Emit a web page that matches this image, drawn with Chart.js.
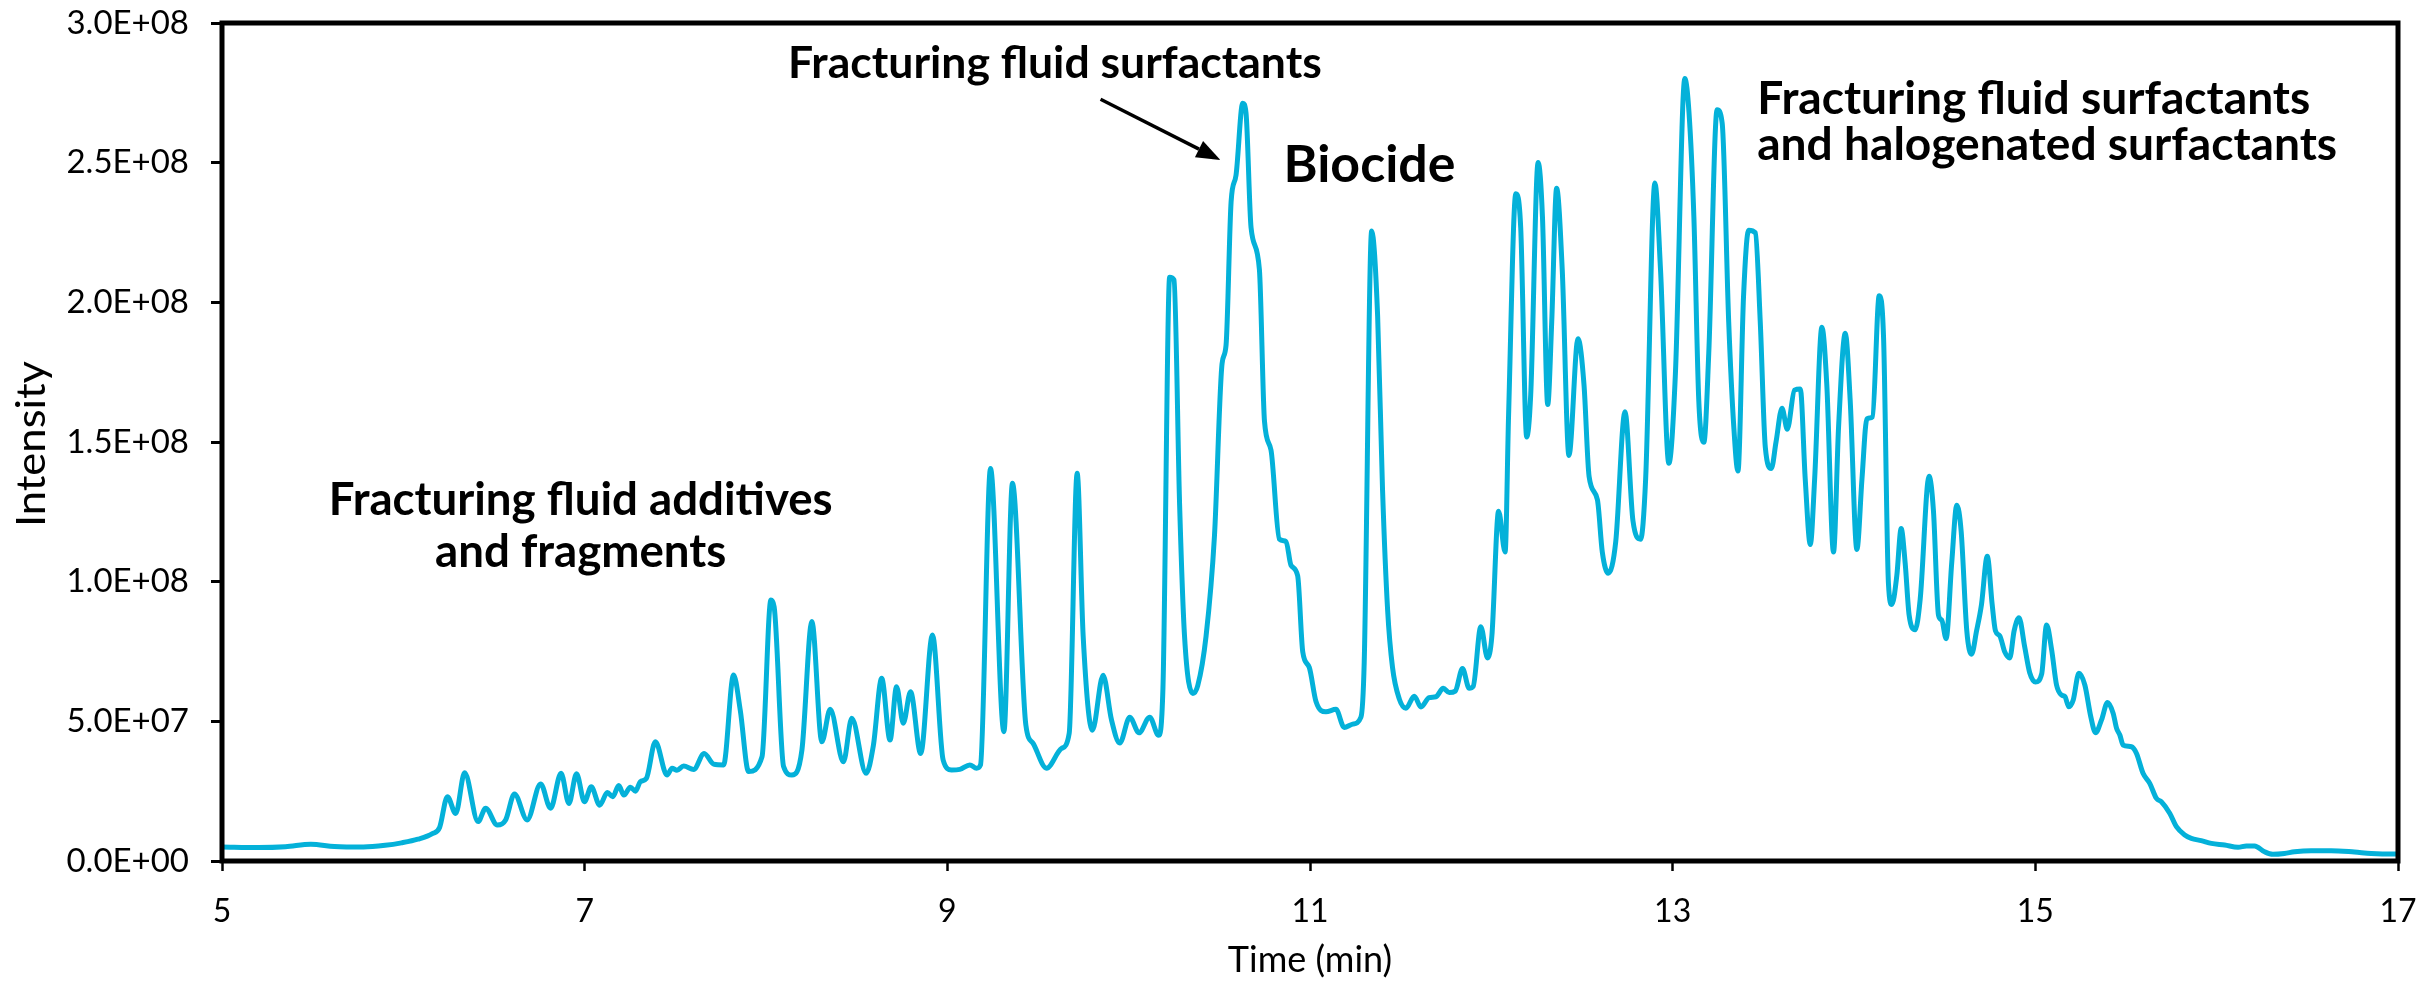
<!DOCTYPE html>
<html>
<head>
<meta charset="utf-8">
<script src="https://cdn.jsdelivr.net/npm/chart.js@4.4.1/dist/chart.umd.min.js"></script>
<style>
html,body{margin:0;padding:0;background:#fff;overflow:hidden}
canvas{display:block}
</style>
</head>
<body>
<canvas id="c" width="2425" height="982"></canvas>
<script>
// ---- data (time in min, intensity in millions of counts) ----
const timeMin = [
  5.00,5.20,5.35,5.49,5.62,5.78,5.90,5.99,6.08,6.16,6.20,6.243,6.289,6.338,6.412,6.454,6.518,6.564,6.613,6.683,
  6.757,6.812,6.870,6.913,6.955,6.999,7.036,7.083,7.125,7.155,7.188,7.216,7.252,7.280,7.307,7.340,7.390,7.454,7.482,7.509,
  7.546,7.601,7.659,7.711,7.766,7.821,7.858,7.904,7.978,8.027,8.045,8.097,8.143,8.198,8.253,8.308,8.354,8.427,8.473,8.552,
  8.592,8.638,8.684,8.720,8.757,8.797,8.853,8.918,8.977,9.023,9.069,9.124,9.161,9.183,9.238,9.312,9.359,9.433,9.473,9.547,
  9.630,9.672,9.716,9.749,9.800,9.859,9.905,9.951,10.006,10.057,10.116,10.165,10.189,10.226,10.250,10.281,10.308,10.354,10.381,10.427,
  10.473,10.515,10.537,10.565,10.592,10.629,10.647,10.675,10.721,10.749,10.785,10.831,10.868,10.895,10.932,10.960,10.996,11.033,11.088,11.143,
  11.189,11.235,11.281,11.299,11.340,11.373,11.400,11.428,11.455,11.492,11.529,11.575,11.612,11.657,11.694,11.735,11.768,11.801,11.841,11.878,
  11.900,11.942,11.979,12.003,12.040,12.076,12.095,12.135,12.162,12.195,12.217,12.258,12.282,12.311,12.333,12.360,12.391,12.428,12.478,12.511,
  12.539,12.585,12.612,12.645,12.686,12.737,12.781,12.823,12.851,12.902,12.933,12.979,13.015,13.067,13.090,13.117,13.144,13.172,13.199,13.245,
  13.273,13.309,13.337,13.360,13.391,13.419,13.456,13.483,13.511,13.544,13.570,13.603,13.632,13.672,13.704,13.731,13.759,13.783,13.823,13.850,
  13.887,13.915,13.952,13.979,14.016,14.044,14.071,14.102,14.139,14.163,14.190,14.209,14.236,14.260,14.282,14.304,14.337,14.365,14.414,14.438,
  14.466,14.484,14.508,14.539,14.567,14.591,14.622,14.648,14.676,14.703,14.735,14.762,14.780,14.804,14.831,14.859,14.883,14.910,14.941,14.969,
  15.001,15.035,15.062,15.090,15.117,15.145,15.163,15.185,15.209,15.240,15.273,15.306,15.332,15.365,15.398,15.429,15.448,15.466,15.484,15.530,
  15.558,15.594,15.631,15.668,15.695,15.741,15.778,15.824,15.860,15.915,15.971,16.044,16.118,16.164,16.209,16.264,16.310,16.374,16.429,16.521,
  16.631,16.760,16.852,16.984,17.000
];
const intensityM = [
  5.0,4.8,5.1,6.0,5.2,5.0,5.6,6.5,7.8,9.8,12.0,23.0,17.0,31.6,14.1,18.9,12.9,14.7,24.0,14.7,
  27.6,18.9,31.4,20.6,31.2,21.2,26.6,20.0,24.5,23.0,27.0,23.6,26.4,25.0,28.4,29.5,42.7,30.8,33.2,32.5,
  34.0,32.8,38.5,34.7,34.4,66.6,54.0,32.0,37.3,93.4,91.0,33.8,30.8,39.7,85.7,42.7,54.3,35.5,51.1,31.4,
  41.3,65.4,43.3,62.4,49.3,60.6,38.5,80.9,36.1,32.6,32.8,34.4,33.2,34.4,140.5,46.3,135.2,48.7,42.1,33.2,
  40.3,45.7,138.8,80.6,46.8,66.5,50.6,42.2,51.5,45.9,51.5,45.0,61.8,209.0,208.0,127.4,80.6,60.0,62.8,80.6,
  116.2,178.0,184.6,236.1,245.5,271.3,267.9,226.7,211.7,157.4,147.1,115.2,114.4,105.9,102.1,74.9,69.3,57.1,53.4,54.3,
  47.8,49.0,51.5,71.2,225.5,195.0,133.0,89.9,69.3,58.1,54.7,59.0,55.1,58.5,58.8,61.8,60.3,60.8,68.9,61.8,
  62.5,83.9,72.7,80.6,125.2,110.6,159.3,238.9,226.7,151.8,166.8,250.1,230.5,163.4,193.0,240.8,211.7,145.2,187.0,170.5,
  137.7,129.3,110.6,103.0,114.3,160.8,121.8,115.2,136.8,242.7,211.7,142.4,174.3,280.1,268.0,230.5,164.9,149.9,181.7,268.9,
  264.2,193.0,155.5,139.6,202.4,225.8,224.9,193.0,148.0,140.5,150.0,162.1,154.6,168.6,169.0,136.8,113.3,136.8,191.1,170.5,
  110.6,155.5,188.9,164.9,111.5,136.8,158.3,159.0,202.4,187.4,99.3,91.8,102.1,119.0,106.8,88.0,82.8,93.7,137.7,125.5,
  88.0,86.2,79.6,106.8,127.4,118.0,82.4,74.0,82.4,91.8,109.1,91.8,82.4,80.6,74.9,72.7,82.4,87.1,76.8,67.4,
  64.1,67.0,84.5,75.6,63.0,59.4,58.9,55.2,57.6,67.2,63.0,51.6,45.9,50.5,56.7,52.9,47.5,45.1,41.5,40.9,
  38.5,31.4,27.8,22.4,21.2,17.1,12.3,9.3,8.1,7.3,6.3,5.7,4.9,5.4,5.4,3.3,2.4,2.7,3.3,3.7,
  3.7,3.2,2.7,2.5,2.5
];
const INTENSITY_UNIT = 1e6;
const xTickLabels = ['5','7','9','11','13','15','17'];
const yTickLabels = ['0.0E+00','5.0E+07','1.0E+08','1.5E+08','2.0E+08','2.5E+08','3.0E+08'];
const xTitle = 'Time (min)';
const yTitle = 'Intensity';

// ---- annotation texts (anchored in data units) ----
const annotationTexts = [
  { lines: ['Fracturing fluid additives', 'and fragments'], t: 6.978, v: [1.239e8, 1.0525e8], align: 'center', fitLine: 0, fitWidth: 504 },
  { lines: ['Fracturing fluid surfactants'], t: 9.593, v: [2.802e8], align: 'center', fitLine: 0, fitWidth: 534 },
  { lines: ['Biocide'], t: 11.328, v: [2.432e8], align: 'center', fitLine: 0, fitWidth: 172 },
  { lines: ['Fracturing fluid surfactants', 'and halogenated surfactants'], t: 13.466, v: [2.674e8, 2.5095e8], align: 'left', fitLine: 1, fitWidth: 580 }
];
const arrowFrom = { t: 9.845, v: 2.727e8 };
const arrowTo = { t: 10.506, v: 2.5096e8 };

const LINE_COLOR = 'rgb(4,177,217)';
const SANS = 'Lato, "Open Sans", "DejaVu Sans", sans-serif';

const framePlugin = {
  id: 'frame',
  afterDraw(chart) {
    const { ctx, chartArea: a } = chart;
    ctx.save();
    ctx.strokeStyle = '#000';
    ctx.lineWidth = 5;
    ctx.strokeRect(a.left, a.top, a.right - a.left, a.bottom - a.top);
    ctx.restore();
  }
};

const yTitlePlugin = {
  id: 'yTitle',
  afterDraw(chart) {
    const { ctx, chartArea: a } = chart;
    ctx.save();
    ctx.font = `40px ${SANS}`;
    const w = ctx.measureText(yTitle).width;
    const target = 166;
    const cy = (a.top + a.bottom) / 2 + 2;
    ctx.translate(45, cy);
    ctx.rotate(-Math.PI / 2);
    ctx.scale(target / w, 1);
    ctx.fillStyle = '#000';
    ctx.textAlign = 'center';
    ctx.textBaseline = 'alphabetic';
    ctx.fillText(yTitle, 0, 0);
    ctx.restore();
  }
};

const annotationPlugin = {
  id: 'annots',
  afterDraw(chart) {
    const { ctx } = chart;
    const xs = chart.scales.x, ys = chart.scales.y;
    ctx.save();
    ctx.fillStyle = '#000';
    annotationTexts.forEach(a => {
      ctx.font = `bold 100px ${SANS}`;
      const w = ctx.measureText(a.lines[a.fitLine]).width;
      const size = 100 * a.fitWidth / w;
      ctx.font = `bold ${size.toFixed(2)}px ${SANS}`;
      ctx.textAlign = a.align;
      ctx.textBaseline = 'alphabetic';
      const x = xs.getPixelForValue(a.t);
      a.lines.forEach((ln, i) => ctx.fillText(ln, x, ys.getPixelForValue(a.v[i])));
    });
    // arrow
    const x1 = xs.getPixelForValue(arrowFrom.t), y1 = ys.getPixelForValue(arrowFrom.v);
    const x2 = xs.getPixelForValue(arrowTo.t), y2 = ys.getPixelForValue(arrowTo.v);
    const ang = Math.atan2(y2 - y1, x2 - x1);
    const headLen = 24, headHalf = 9;
    const bx = x2 - headLen * Math.cos(ang), by = y2 - headLen * Math.sin(ang);
    ctx.strokeStyle = '#000';
    ctx.lineWidth = 3.4;
    ctx.beginPath();
    ctx.moveTo(x1, y1);
    ctx.lineTo(bx, by);
    ctx.stroke();
    ctx.beginPath();
    ctx.moveTo(x2, y2);
    ctx.lineTo(bx + headHalf * Math.sin(ang), by - headHalf * Math.cos(ang));
    ctx.lineTo(bx - headHalf * Math.sin(ang), by + headHalf * Math.cos(ang));
    ctx.closePath();
    ctx.fill();
    ctx.restore();
  }
};

const points = timeMin.map((t, i) => ({ x: t, y: intensityM[i] * INTENSITY_UNIT }));

new Chart(document.getElementById('c').getContext('2d'), {
  type: 'line',
  data: {
    datasets: [{
      data: points,
      borderColor: LINE_COLOR,
      borderWidth: 5,
      pointRadius: 0,
      fill: false,
      cubicInterpolationMode: 'monotone'
    }]
  },
  options: {
    responsive: false,
    animation: false,
    devicePixelRatio: 1,
    layout: { padding: { left: 0, right: 27, top: 23, bottom: 0 } },
    plugins: { legend: { display: false }, tooltip: { enabled: false } },
    scales: {
      x: {
        type: 'linear', position: 'bottom', min: 5, max: 17,
        ticks: {
          stepSize: 2, autoSkip: false, maxRotation: 0, color: '#000',
          font: { family: SANS, size: 32 }, padding: 21,
          callback: (v, i) => xTickLabels[i]
        },
        grid: { display: true, drawOnChartArea: false, drawTicks: true, tickLength: 10, tickWidth: 2.5, tickColor: '#000', color: '#000' },
        border: { display: false },
        title: { display: true, text: xTitle, color: '#000', font: { family: SANS, size: 36, lineHeight: 1.2 }, padding: { top: 0, bottom: 0 } },
        afterFit: s => { s.height = 121; s.paddingLeft = 0; s.paddingRight = 0; }
      },
      y: {
        type: 'linear', min: 0, max: 3e8,
        ticks: {
          stepSize: 5e7, color: '#000', font: { family: SANS, size: 33 }, padding: 22,
          callback: (v, i) => yTickLabels[i]
        },
        grid: { display: true, drawOnChartArea: false, drawTicks: true, tickLength: 11, tickWidth: 3, tickColor: '#000', color: '#000' },
        border: { display: false },
        title: { display: false },
        afterFit: s => { s.width = 222; s.paddingTop = 0; s.paddingBottom = 0; }
      }
    }
  },
  plugins: [framePlugin, yTitlePlugin, annotationPlugin]
});
</script>
</body>
</html>
